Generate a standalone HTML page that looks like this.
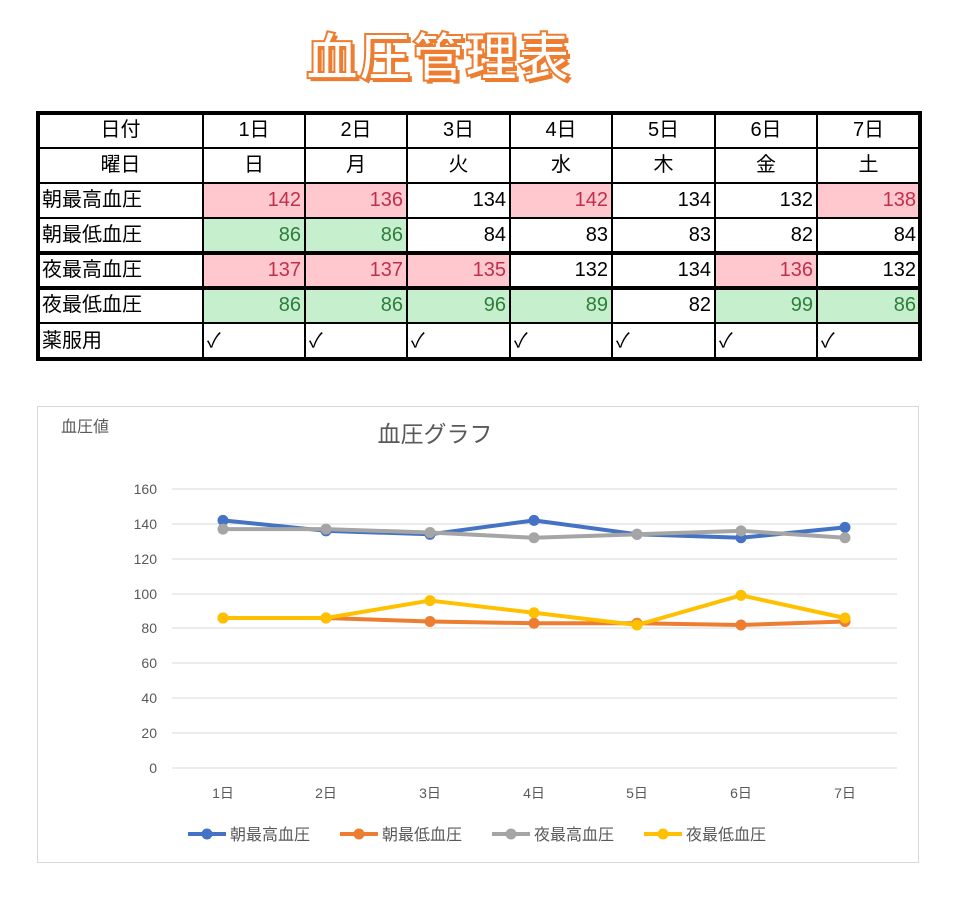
<!DOCTYPE html>
<html><head><meta charset="utf-8">
<style>
body{margin:0;background:#fff;width:958px;height:897px;position:relative;overflow:hidden;font-family:"Liberation Sans","Noto Sans CJK JP",sans-serif;}
.title{position:absolute;left:306px;top:22px;font-size:52px;font-weight:bold;color:#fff;-webkit-text-stroke:2px #ED7D31;text-shadow:3px 3px 0 #ED7D31;letter-spacing:1px;line-height:64px;font-family:"Noto Sans CJK JP",sans-serif;}
.c{position:absolute;font-size:20px;color:#000;line-height:1;font-family:"Liberation Sans","Noto Sans CJK JP",sans-serif;}
.h{position:absolute;background:#000;}
</style></head><body>
<div class="title">血圧管理表</div>
<div id="t"></div>
<svg width="958" height="897" style="position:absolute;left:0;top:0" xmlns="http://www.w3.org/2000/svg" font-family="Liberation Sans, Noto Sans CJK JP, sans-serif">
<rect x="37.5" y="406.5" width="881" height="456" fill="none" stroke="#d9d9d9"/>
<text x="61" y="432" font-size="16" fill="#595959">血圧値</text>
<text x="435" y="442" font-size="23" fill="#595959" text-anchor="middle">血圧グラフ</text>
<g stroke="#d9d9d9" stroke-width="1">
<line x1="172" x2="897" y1="489" y2="489"/><line x1="172" x2="897" y1="524" y2="524"/><line x1="172" x2="897" y1="559" y2="559"/><line x1="172" x2="897" y1="594" y2="594"/><line x1="172" x2="897" y1="628" y2="628"/><line x1="172" x2="897" y1="663" y2="663"/><line x1="172" x2="897" y1="698" y2="698"/><line x1="172" x2="897" y1="733" y2="733"/><line x1="172" x2="897" y1="768" y2="768"/>
</g>
<g font-size="14" fill="#595959" text-anchor="end">
<text x="157" y="494">160</text><text x="157" y="529">140</text><text x="157" y="564">120</text><text x="157" y="599">100</text><text x="157" y="633">80</text><text x="157" y="668">60</text><text x="157" y="703">40</text><text x="157" y="738">20</text><text x="157" y="773">0</text>
</g>
<g font-size="14" fill="#595959" text-anchor="middle">
<text x="223" y="798">1日</text><text x="326" y="798">2日</text><text x="430" y="798">3日</text><text x="534" y="798">4日</text><text x="637" y="798">5日</text><text x="741" y="798">6日</text><text x="845" y="798">7日</text>
</g>
<g id="series"></g>
<g font-size="16" fill="#595959">
<line x1="188" x2="226" y1="834" y2="834" stroke="#4472C4" stroke-width="4"/><circle cx="207" cy="834" r="5.5" fill="#4472C4"/><text x="230" y="840">朝最高血圧</text>
<line x1="340" x2="378" y1="834" y2="834" stroke="#ED7D31" stroke-width="4"/><circle cx="359" cy="834" r="5.5" fill="#ED7D31"/><text x="382" y="840">朝最低血圧</text>
<line x1="492" x2="530" y1="834" y2="834" stroke="#A5A5A5" stroke-width="4"/><circle cx="511" cy="834" r="5.5" fill="#A5A5A5"/><text x="534" y="840">夜最高血圧</text>
<line x1="644" x2="682" y1="834" y2="834" stroke="#FFC000" stroke-width="4"/><circle cx="663" cy="834" r="5.5" fill="#FFC000"/><text x="686" y="840">夜最低血圧</text>
</g>
</svg>
<script>
var xs=[223,326,430,534,637,741,845];
function Y(v){return 768-v*1.744;}
var S=[["#4472C4",[142,136,134,142,134,132,138]],["#ED7D31",[86,86,84,83,83,82,84]],["#A5A5A5",[137,137,135,132,134,136,132]],["#FFC000",[86,86,96,89,82,99,86]]];
var g='';
S.forEach(function(s){var p=s[1].map(function(v,i){return xs[i]+','+Y(v)}).join(' ');
g+='<polyline points="'+p+'" fill="none" stroke="'+s[0]+'" stroke-width="4" stroke-linejoin="round"/>';
s[1].forEach(function(v,i){g+='<circle cx="'+xs[i]+'" cy="'+Y(v)+'" r="5.5" fill="'+s[0]+'"/>';});});
document.getElementById('series').innerHTML=g;
var cx=[38,203,305,407,510,612,715,817,920];
var ry=[113,148,183,218,253,288,323,359];
var rows=[["日付","1日","2日","3日","4日","5日","6日","7日"],["曜日","日","月","火","水","木","金","土"],["朝最高血圧",142,136,134,142,134,132,138],["朝最低血圧",86,86,84,83,83,82,84],["夜最高血圧",137,137,135,132,134,136,132],["夜最低血圧",86,86,96,89,82,99,86],["薬服用","✓","✓","✓","✓","✓","✓","✓"]];
var hi={2:[1,1,0,1,0,0,1],3:[1,1,0,0,0,0,0],4:[1,1,1,0,0,1,0],5:[1,1,1,1,0,1,1]};
var h='';
for(var r=0;r<7;r++){for(var c=0;c<8;c++){var x=cx[c],w=cx[c+1]-x,y=ry[r],hh=ry[r+1]-y;
var bg='#fff',col='#000',v=rows[r][c];
if(c>0&&hi[r]&&hi[r][c-1]){if(r==2||r==4){bg='#FFC7CE';col='#C0304A';}else{bg='#C6EFCE';col='#2E7D3A';}}
var al='center',pad='';
if(c==0&&r>=2){al='left';pad='padding-left:4px;';}
else if(c>0&&r>=2&&r<=5){al='right';pad='padding-right:4px;';}
else if(c>0&&r==6){al='left';pad='padding-left:4px;';}
h+='<div class="c" style="left:'+x+'px;top:'+y+'px;width:'+w+'px;height:'+hh+'px;background:'+bg+';color:'+col+';text-align:'+al+';box-sizing:border-box;'+pad+'line-height:'+hh+'px">'+v+'</div>';}}
var thick={0:1,4:1,5:1,7:1};
for(var i=0;i<ry.length;i++){var t=thick[i]?4:2;h+='<div class="h" style="left:36px;top:'+(ry[i]-t/2)+'px;width:886px;height:'+t+'px"></div>';}
for(var j=0;j<cx.length;j++){var t=(j==0||j==8)?4:2;h+='<div class="h" style="left:'+(cx[j]-t/2)+'px;top:111px;width:'+t+'px;height:250px"></div>';}
document.getElementById('t').innerHTML=h;
</script>
</body></html>
